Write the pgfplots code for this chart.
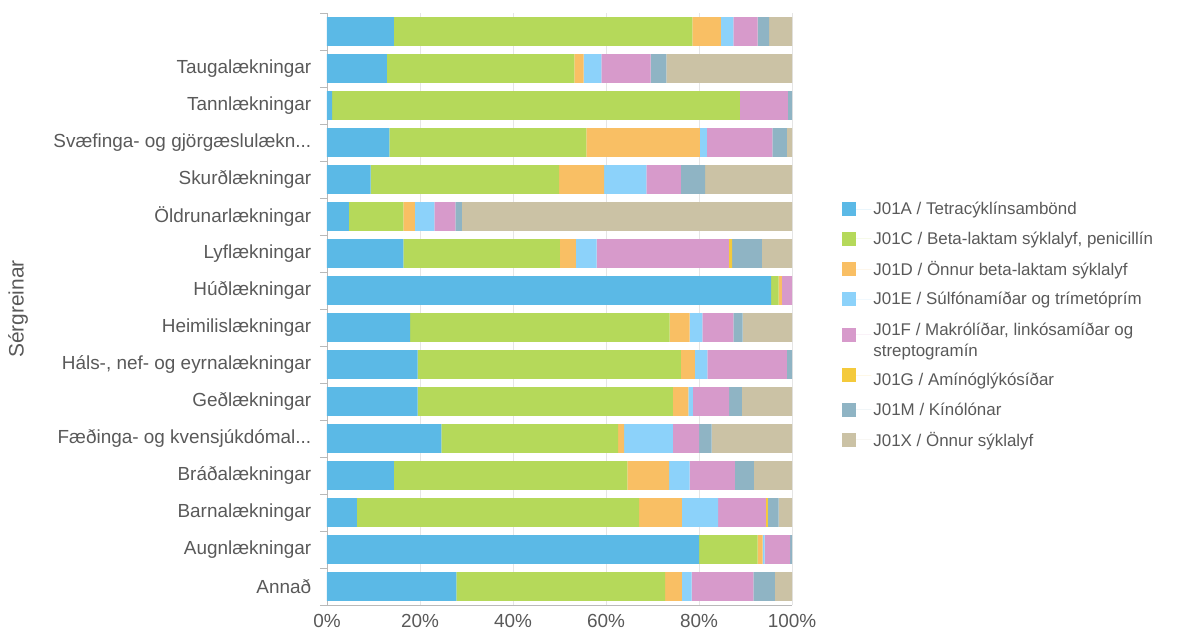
\documentclass[border=0pt]{standalone}
\usepackage{pgfplots}
\pgfplotsset{compat=1.18}
\usepackage{pgfplotstable}
\usepackage{fontspec}
\setmainfont{Liberation Sans}
\definecolor{cA}{HTML}{5BB9E6}
\definecolor{cC}{HTML}{B5D95A}
\definecolor{cD}{HTML}{F9BF64}
\definecolor{cE}{HTML}{8CD2FA}
\definecolor{cF}{HTML}{D79ACB}
\definecolor{cG}{HTML}{F4CA3C}
\definecolor{cM}{HTML}{8FB4C4}
\definecolor{cX}{HTML}{CBC2A5}
\definecolor{txt}{HTML}{595959}

\pgfplotstableread{
y A C D E F G M X
0 14.4 64.2 6.1 2.7 5.2 0 2.5 4.9
1 12.9 40.3 2.0 3.8 10.6 0 3.4 27.0
2 1.1 87.7 0 0 10.3 0 0.9 0
3 13.4 42.4 24.4 1.5 14.1 0 3.1 1.1
4 9.4 40.5 9.7 9.1 7.4 0 5.2 18.7
5 4.7 11.7 2.5 4.2 4.5 0 1.4 71.0
6 16.4 33.7 3.4 4.5 28.4 0.7 6.4 6.5
7 95.5 1.6 0.7 0 2.2 0 0 0
8 17.9 55.8 4.3 2.7 6.7 0 2.0 10.6
9 19.5 56.6 3.0 2.7 17.1 0 1.1 0
10 19.5 54.9 3.3 1.0 7.8 0 2.7 10.8
11 24.6 38.0 1.3 10.5 5.6 0 2.7 17.3
12 14.4 50.2 9.0 4.4 9.7 0 4.1 8.2
13 6.4 60.7 9.2 7.8 10.3 0.4 2.3 2.9
14 80.0 12.6 1.1 0.4 5.5 0 0.4 0
15 27.8 44.9 3.6 2.1 13.3 0 4.6 3.7
}\data

\begin{document}
\begin{tikzpicture}
\begin{axis}[
  xbar stacked,
  scale only axis, width=465bp, height=592bp,
  xmin=0, xmax=100, ymin=-0.5, ymax=15.5, y dir=reverse,
  bar width=0.78,
  axis x line*=bottom, axis y line*=left,
  axis line style={-, draw=gray!55, line width=0.8pt},
  xtick={0,20,40,60,80,100},
  xticklabel={\pgfmathprintnumber{\tick}\%},
  /pgf/number format/assume math mode=true,
  ytick={0,1,2,3,4,5,6,7,8,9,10,11,12,13,14,15},
  yticklabels={{},Taugalækningar,Tannlækningar,{Svæfinga- og gjörgæslulækn{.}{.}{.}},Skurðlækningar,Öldrunarlækningar,Lyflækningar,Húðlækningar,Heimilislækningar,{Háls-, nef- og eyrnalækningar},Geðlækningar,{Fæðinga- og kvensjúkdómal{.}{.}{.}},Bráðalækningar,Barnalækningar,Augnlækningar,Annað},
  minor ytick={-0.5,0.5,1.5,2.5,3.5,4.5,5.5,6.5,7.5,8.5,9.5,10.5,11.5,12.5,13.5,14.5,15.5},
  major y tick style={draw=none},
  major x tick style={draw=none},
  minor y tick style={draw=gray!55, line width=0.8pt},
  minor tick length=7bp,
  tick align=outside,
  xmajorgrids, major grid style={draw=gray!20, line width=0.6pt},
  ticklabel style={font=\fontsize{19}{22}\selectfont, text=txt},
  yticklabel style={xshift=-8bp},
  xticklabel style={yshift=-2bp},
  ylabel={Sérgreinar},
  ylabel style={at={(rel axis cs:-0.6645,0.5)}, anchor=center, font=\fontsize{21}{24}\selectfont, text=txt},
  legend style={at={(1.108,0.473)}, anchor=west, draw=none, fill=none,
    font=\fontsize{17}{20}\selectfont, text=txt, row sep=11.5bp, inner sep=0pt,
    cells={anchor=west}},
  legend cell align=left,
  legend image code/.code={\fill[#1] (0bp,-7bp) rectangle (14bp,7bp); \path (0bp,0bp) -- (29bp,0bp);},
]
\addplot[fill=cA, draw=none] table[x=A, y=y] {\data};
\addplot[fill=cC, draw=none] table[x=C, y=y] {\data};
\addplot[fill=cD, draw=none] table[x=D, y=y] {\data};
\addplot[fill=cE, draw=none] table[x=E, y=y] {\data};
\addplot[fill=cF, draw=none] table[x=F, y=y] {\data};
\addplot[fill=cG, draw=none] table[x=G, y=y] {\data};
\addplot[fill=cM, draw=none] table[x=M, y=y] {\data};
\addplot[fill=cX, draw=none] table[x=X, y=y] {\data};
\legend{J01A / Tetracýklínsambönd, {J01C / Beta-laktam sýklalyf, penicillín}, J01D / Önnur beta-laktam sýklalyf, J01E / Súlfónamíðar og trímetóprím, {\begin{tabular}{@{}l@{}}J01F / Makrólíðar, linkósamíðar og\\[1bp]streptogramín\end{tabular}}, \rule{0pt}{22bp}J01G / Amínóglýkósíðar, J01M / Kínólónar, J01X / Önnur sýklalyf}
\coordinate (O) at (rel axis cs:0,0);
\end{axis}
\path (O) ++(-327bp,-29bp) rectangle ++(1193bp,634bp);
\end{tikzpicture}
\end{document}
